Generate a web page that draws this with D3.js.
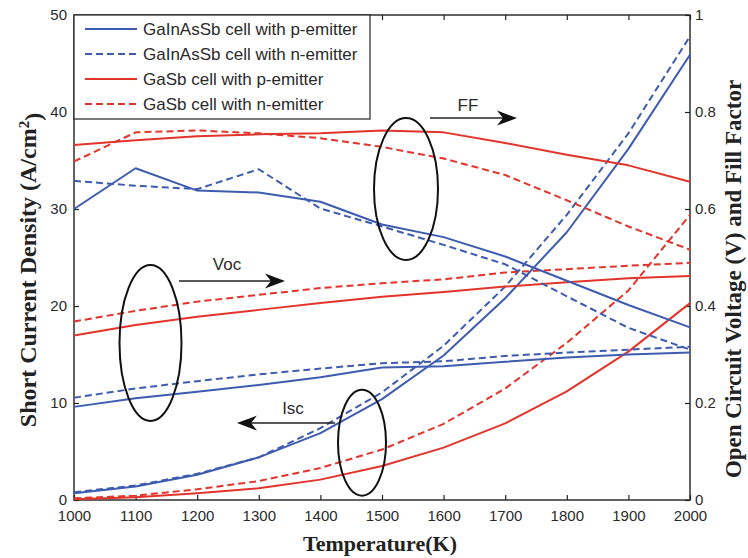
<!DOCTYPE html>
<html><head><meta charset="utf-8">
<script src="https://cdn.jsdelivr.net/npm/d3@7"></script>
<style>body{margin:0;background:#fff}svg{display:block}</style>
</head><body>
<svg id="chart" width="748" height="558"></svg>
<script>
const temps = [1000,1100,1200,1300,1400,1500,1600,1700,1800,1900,2000];
// Short current density (A/cm^2), left axis
const iscGaInAsSbP = [0.7,1.4,2.6,4.4,6.9,10.4,14.9,20.8,27.6,36.2,45.9];
const iscGaInAsSbN = [0.8,1.5,2.7,4.4,7.4,11.1,15.9,22.0,29.4,37.8,47.8];
const iscGaSbP = [0.07,0.28,0.7,1.2,2.1,3.5,5.4,7.9,11.2,15.3,20.3];
const iscGaSbN = [0.17,0.45,1.1,1.95,3.3,5.2,7.85,11.5,16.2,21.6,29.4];
// Open circuit voltage (V), right axis
const vocGaInAsSbP = [0.192,0.210,0.223,0.237,0.253,0.273,0.276,0.285,0.294,0.300,0.304];
const vocGaInAsSbN = [0.211,0.230,0.245,0.259,0.271,0.282,0.286,0.297,0.304,0.310,0.316];
const vocGaSbP = [0.339,0.361,0.378,0.392,0.406,0.419,0.429,0.440,0.449,0.457,0.462];
const vocGaSbN = [0.368,0.390,0.409,0.423,0.437,0.447,0.455,0.469,0.476,0.483,0.489];
// Fill factor, right axis
const ffGaInAsSbP = [0.600,0.684,0.638,0.634,0.615,0.568,0.542,0.502,0.452,0.402,0.356];
const ffGaInAsSbN = [0.658,0.648,0.641,0.682,0.601,0.564,0.526,0.486,0.420,0.355,0.310];
const ffGaSbP = [0.732,0.742,0.750,0.754,0.756,0.762,0.758,0.736,0.712,0.690,0.656];
const ffGaSbN = [0.698,0.758,0.762,0.756,0.746,0.728,0.704,0.670,0.618,0.564,0.516];

const legendLabels = ["GaInAsSb cell with p-emitter","GaInAsSb cell with n-emitter","GaSb cell with p-emitter","GaSb cell with n-emitter"];
const leftTicks = [0,10,20,30,40,50];
const rightTicks = [0,0.2,0.4,0.6,0.8,1];
const xTicks = [1000,1100,1200,1300,1400,1500,1600,1700,1800,1900,2000];

const BLUE = "#3d5cb0", RED = "#e2342b";
const svg = d3.select("#chart");
const x = d3.scaleLinear().domain([1000,2000]).range([74,690]);
const yL = d3.scaleLinear().domain([0,50]).range([500,15]);
const yR = d3.scaleLinear().domain([0,1]).range([500,15]);
const sans = "'Liberation Sans', Arial, Helvetica, sans-serif";
const serif = "'Liberation Serif', 'Times New Roman', Times, serif";

function styleAxis(g){
  g.select(".domain").remove();
  g.selectAll(".tick line").attr("stroke","#222").attr("stroke-width",1.2);
  g.selectAll(".tick text").attr("fill","#2a2a2a").style("font-family",sans).style("font-size","15px");
}
svg.append("g").attr("transform","translate(0,500)")
  .call(d3.axisBottom(x).tickValues(xTicks).tickFormat(d3.format("d")).tickSizeInner(-5).tickSizeOuter(0).tickPadding(10))
  .call(styleAxis);
svg.append("g").attr("transform","translate(0,15)")
  .call(d3.axisTop(x).tickValues(xTicks).tickFormat("").tickSizeInner(-5).tickSizeOuter(0))
  .call(styleAxis);
svg.append("g").attr("transform","translate(74,0)")
  .call(d3.axisLeft(yL).tickValues(leftTicks).tickFormat(d3.format("d")).tickSizeInner(-5).tickSizeOuter(0).tickPadding(7))
  .call(styleAxis);
svg.append("g").attr("transform","translate(690,0)")
  .call(d3.axisRight(yR).tickValues(rightTicks).tickFormat(v => (v===0||v===1)? String(v) : d3.format(".1f")(v)).tickSizeInner(-5).tickSizeOuter(0).tickPadding(5))
  .call(styleAxis);

// frame
svg.append("rect").attr("x",x(1000)).attr("y",yL(50)).attr("width",x(2000)-x(1000)).attr("height",yL(0)-yL(50))
  .attr("fill","none").attr("stroke","#222").attr("stroke-width",1.4);

const series = [
  {v:iscGaInAsSbP, s:yL, c:BLUE, d:false},
  {v:iscGaInAsSbN, s:yL, c:BLUE, d:true},
  {v:iscGaSbP, s:yL, c:RED, d:false},
  {v:iscGaSbN, s:yL, c:RED, d:true},
  {v:vocGaInAsSbP, s:yR, c:BLUE, d:false},
  {v:vocGaInAsSbN, s:yR, c:BLUE, d:true},
  {v:vocGaSbP, s:yR, c:RED, d:false},
  {v:vocGaSbN, s:yR, c:RED, d:true},
  {v:ffGaInAsSbP, s:yR, c:BLUE, d:false},
  {v:ffGaInAsSbN, s:yR, c:BLUE, d:true},
  {v:ffGaSbP, s:yR, c:RED, d:false},
  {v:ffGaSbN, s:yR, c:RED, d:true}
];
const plot = svg.append("g");
series.forEach(se => {
  const line = d3.line().x((d,i)=>x(temps[i])).y(d=>se.s(d));
  plot.append("path").datum(se.v).attr("d",line).attr("fill","none")
    .attr("stroke",se.c).attr("stroke-width",2).attr("stroke-linejoin","round")
    .attr("stroke-dasharray", se.d ? "7,4" : null);
});

// ellipses
const ell = [{cx:406,cy:189,rx:32,ry:71},{cx:150.5,cy:343,rx:31,ry:78},{cx:362,cy:442.7,rx:24,ry:53}];
svg.append("g").selectAll("ellipse").data(ell).join("ellipse")
  .attr("cx",d=>d.cx).attr("cy",d=>d.cy).attr("rx",d=>d.rx).attr("ry",d=>d.ry)
  .attr("fill","none").attr("stroke","#111").attr("stroke-width",2);

// arrows
const arrows = [
  {x1:430,x2:517,y:118,label:"FF",tx:468,ty:111},
  {x1:179,x2:285,y:281,label:"Voc",tx:227,ty:270},
  {x1:335,x2:237,y:423,label:"Isc",tx:293,ty:414}
];
const ag = svg.append("g");
arrows.forEach(a => {
  const dir = a.x2 > a.x1 ? 1 : -1;
  ag.append("line").attr("x1",a.x1).attr("x2",a.x2 - dir*12).attr("y1",a.y).attr("y2",a.y)
    .attr("stroke","#222").attr("stroke-width",1.3);
  const t = a.x2;
  ag.append("path").attr("d",`M${t},${a.y} L${t-dir*20},${a.y-7.5} L${t-dir*14},${a.y} L${t-dir*20},${a.y+7.5} Z`)
    .attr("fill","#111");
  ag.append("text").attr("x",a.tx).attr("y",a.ty).attr("text-anchor","middle")
    .style("font-family",sans).style("font-size","17px").attr("fill","#2a2a2a").text(a.label);
});

// legend
const lg = svg.append("g");
lg.append("rect").attr("x",74).attr("y",15).attr("width",296).attr("height",104)
  .attr("fill","#fff").attr("stroke","#222").attr("stroke-width",1.2);
const legendStyles = [{c:BLUE,d:false},{c:BLUE,d:true},{c:RED,d:false},{c:RED,d:true}];
legendLabels.forEach((lab,i) => {
  const yy = 29 + i*25;
  lg.append("line").attr("x1",85).attr("x2",137).attr("y1",yy).attr("y2",yy)
    .attr("stroke",legendStyles[i].c).attr("stroke-width",2).attr("stroke-dasharray",legendStyles[i].d?"7,4":null);
  lg.append("text").attr("x",143).attr("y",yy).attr("dy","0.36em")
    .style("font-family",sans).style("font-size","17px").attr("fill","#2a2a2a").text(lab);
});

// axis titles
const lt = svg.append("text").attr("transform","translate(36,270) rotate(-90)").attr("text-anchor","middle")
  .style("font-family",serif).style("font-size","24px").style("font-weight","bold").attr("fill","#222");
lt.append("tspan").text("Short Current Density (A/cm");
lt.append("tspan").attr("dy","-0.5em").style("font-size","15px").text("2");
lt.append("tspan").attr("dy","0.5em").text(")");
svg.append("text").attr("transform","translate(741,279) rotate(-90)").attr("text-anchor","middle")
  .style("font-family",serif).style("font-size","23px").style("font-weight","bold").attr("fill","#222")
  .text("Open Circuit Voltage (V) and Fill Factor");
svg.append("text").attr("x",380).attr("y",551).attr("text-anchor","middle")
  .style("font-family",serif).style("font-size","22px").style("font-weight","bold").attr("fill","#222")
  .text("Temperature(K)");
</script>
</body></html>
